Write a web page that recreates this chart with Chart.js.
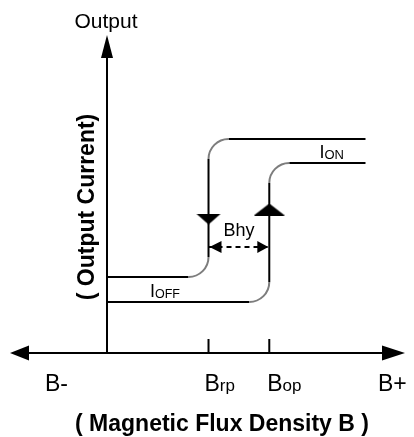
<!DOCTYPE html>
<html>
<head>
<meta charset="utf-8">
<title>Hysteresis</title>
<script src="https://cdn.jsdelivr.net/npm/chart.js@4.4.0/dist/chart.umd.min.js"></script>
<style>
  html, body { margin: 0; padding: 0; background: #fff; }
  canvas { display: block; }
</style>
</head>
<body>
<canvas id="hyst-chart" width="414" height="437"></canvas>
<script>
// flux density B (0 = output axis), arbitrary units
const bRange = [-9.6, 29.4];
const bSwitch = [10, 16];          // Brp, Bop
const bEnd = 25.5;
const bLabels = [['B-', ''], ['B', 'rp'], ['B', 'op'], ['B+', '']];

// output current, arbitrary units
const outRange = [0, 31.8];
const iOffLevels = [5.1, 7.6];     // operate branch, release branch
const iOnLevels = [19.0, 21.4];
const currentLabels = [['I', 'OFF'], ['I', 'ON']];

// corners of the two branches of the loop
const releaseX = [0, bSwitch[0], bSwitch[0], bEnd];
const releaseY = [iOffLevels[1], iOffLevels[1], iOnLevels[1], iOnLevels[1]];
const operateX = [0, bSwitch[1], bSwitch[1], bEnd];
const operateY = [iOffLevels[0], iOffLevels[0], iOnLevels[0], iOnLevels[0]];

// direction marks, hysteresis arrow and tick height
const markerY = [13.4, 14.35];     // down on release, up on operate
const bhyLevel = 10.6;
const tickHeight = 1.4;

const FONT = '"Liberation Sans", Arial, sans-serif';

function toPoints(xs, ys) {
  return xs.map(function (x, i) { return { x: x, y: ys[i] }; });
}

function triangleImage(w, h, up) {
  const c = document.createElement('canvas');
  c.width = w;
  c.height = h;
  const g = c.getContext('2d');
  g.fillStyle = '#000';
  g.beginPath();
  if (up) {
    g.moveTo(w / 2, 0); g.lineTo(w, h); g.lineTo(0, h);
  } else {
    g.moveTo(0, 0); g.lineTo(w, 0); g.lineTo(w / 2, h);
  }
  g.closePath();
  g.fill();
  return c;
}

function arrowHead(ctx, tipX, tipY, dir, len, half) {
  ctx.beginPath();
  ctx.moveTo(tipX, tipY);
  if (dir === 'up') {
    ctx.lineTo(tipX - half, tipY + len); ctx.lineTo(tipX + half, tipY + len);
  } else if (dir === 'left') {
    ctx.lineTo(tipX + len, tipY - half); ctx.lineTo(tipX + len, tipY + half);
  } else {
    ctx.lineTo(tipX - len, tipY - half); ctx.lineTo(tipX - len, tipY + half);
  }
  ctx.closePath();
  ctx.fill();
}

// straight runs black, bends grey like the original drawing
function drawRounded(ctx, pts, r) {
  const bends = [];
  for (let i = 1; i < pts.length - 1; i++) {
    const a = pts[i - 1], p = pts[i], b = pts[i + 1];
    const d1 = Math.hypot(p.x - a.x, p.y - a.y);
    const d2 = Math.hypot(b.x - p.x, b.y - p.y);
    bends.push({
      p: p,
      start: { x: p.x - (p.x - a.x) / d1 * r, y: p.y - (p.y - a.y) / d1 * r },
      end: { x: p.x + (b.x - p.x) / d2 * r, y: p.y + (b.y - p.y) / d2 * r }
    });
  }
  ctx.lineWidth = 2;
  ctx.strokeStyle = '#000';
  ctx.beginPath();
  let from = pts[0];
  bends.forEach(function (c) {
    ctx.moveTo(from.x, from.y);
    ctx.lineTo(c.start.x, c.start.y);
    from = c.end;
  });
  ctx.moveTo(from.x, from.y);
  ctx.lineTo(pts[pts.length - 1].x, pts[pts.length - 1].y);
  ctx.stroke();
  ctx.strokeStyle = '#7d7d7d';
  bends.forEach(function (c) {
    ctx.beginPath();
    ctx.moveTo(c.start.x, c.start.y);
    ctx.arcTo(c.p.x, c.p.y, c.end.x, c.end.y, r);
    ctx.stroke();
  });
}

function subText(ctx, x, y, main, sub, size, subSize, drop) {
  ctx.font = size + 'px ' + FONT;
  ctx.fillText(main, x, y);
  if (sub) {
    const w = ctx.measureText(main).width;
    ctx.font = subSize + 'px ' + FONT;
    ctx.fillText(sub, x + w, y + drop);
  }
}

const diagramPlugin = {
  id: 'diagram',
  afterDatasetsDraw: function (chart) {
    const ctx = chart.ctx;
    const xs = chart.scales.x, ys = chart.scales.y;
    const area = chart.chartArea;
    const x0 = Math.round(xs.getPixelForValue(0));
    const y0 = Math.round(ys.getPixelForValue(0));

    ctx.save();
    ctx.fillStyle = '#000';
    ctx.strokeStyle = '#000';
    ctx.lineWidth = 2;

    // axes
    ctx.beginPath();
    ctx.moveTo(x0, y0); ctx.lineTo(x0, area.top + 20);
    ctx.moveTo(area.left + 15, y0); ctx.lineTo(area.right - 20, y0);
    ctx.stroke();
    arrowHead(ctx, x0, area.top, 'up', 23, 6);
    arrowHead(ctx, area.left, y0, 'left', 19, 7.5);
    arrowHead(ctx, area.right, y0, 'right', 23, 7.5);

    // loop branches with rounded bends
    chart.data.datasets.forEach(function (ds, i) {
      if (!ds.rounded) return;
      const pts = chart.getDatasetMeta(i).data.map(function (p) { return { x: p.x, y: p.y }; });
      drawRounded(ctx, pts, 20);
    });

    // Bhy arrowheads
    const xrp = xs.getPixelForValue(bSwitch[0]);
    const xop = xs.getPixelForValue(bSwitch[1]);
    const yh = ys.getPixelForValue(bhyLevel);
    arrowHead(ctx, xrp + 1, yh, 'left', 12, 6);
    arrowHead(ctx, xop - 1, yh, 'right', 11, 6);

    // texts
    ctx.textBaseline = 'alphabetic';
    ctx.textAlign = 'left';
    const tx = [area.left + 35, xrp - 4, xop - 2, area.right - 27];
    bLabels.forEach(function (l, i) {
      subText(ctx, tx[i], 391, l[0], l[1], 23, 17, 0);
    });
    subText(ctx, x0 + 43, ys.getPixelForValue(iOffLevels[0]) - 5,
      currentLabels[0][0], currentLabels[0][1], 18, 12.5, 1);
    subText(ctx, xs.getPixelForValue(bEnd) - 46, ys.getPixelForValue(iOnLevels[0]) - 5,
      currentLabels[1][0], currentLabels[1][1], 18, 13, 1);

    ctx.textAlign = 'center';
    ctx.font = '18px ' + FONT;
    ctx.fillText('Bhy', (xrp + xop) / 2, yh - 11);
    ctx.font = '21px ' + FONT;
    ctx.fillText('Output', x0 - 1, 28);
    ctx.font = 'bold 23px ' + FONT;
    ctx.fillText('( Magnetic Flux Density B )', 222, 431);

    ctx.save();
    ctx.translate(94, 207);
    ctx.rotate(-Math.PI / 2);
    ctx.fillText('( Output Current)', 0, 0);
    ctx.restore();

    ctx.restore();
  }
};

function tickLine(x) {
  return {
    data: [{ x: x, y: 0 }, { x: x, y: tickHeight }],
    showLine: true, borderColor: '#000', borderWidth: 2,
    pointRadius: 0, clip: false
  };
}

const ctx = document.getElementById('hyst-chart').getContext('2d');
const hystChart = new Chart(ctx, {
  type: 'scatter',
  data: {
    datasets: [
      { label: 'release', data: toPoints(releaseX, releaseY), rounded: true, showLine: false, pointRadius: 0, clip: false },
      { label: 'operate', data: toPoints(operateX, operateY), rounded: true, showLine: false, pointRadius: 0, clip: false },
      tickLine(bSwitch[0]),
      tickLine(bSwitch[1]),
      {
        label: 'Bhy',
        data: [{ x: bSwitch[0], y: bhyLevel }, { x: bSwitch[1], y: bhyLevel }],
        showLine: true, borderColor: '#000', borderWidth: 2, borderDash: [5, 4],
        pointRadius: 0, clip: false
      },
      {
        label: 'release mark',
        data: [{ x: bSwitch[0], y: markerY[0] }],
        pointStyle: triangleImage(25, 11, false), pointRadius: 6, clip: false
      },
      {
        label: 'operate mark',
        data: [{ x: bSwitch[1], y: markerY[1] }],
        pointStyle: triangleImage(31, 12, true), pointRadius: 6, clip: false
      }
    ]
  },
  options: {
    responsive: false,
    devicePixelRatio: 1,
    animation: false,
    layout: { padding: { left: 10, right: 9, top: 35, bottom: 84 } },
    plugins: { legend: { display: false }, tooltip: { enabled: false } },
    scales: {
      x: { type: 'linear', min: bRange[0], max: bRange[1], display: false },
      y: { type: 'linear', min: outRange[0], max: outRange[1], display: false }
    }
  },
  plugins: [diagramPlugin]
});
</script>
</body>
</html>
